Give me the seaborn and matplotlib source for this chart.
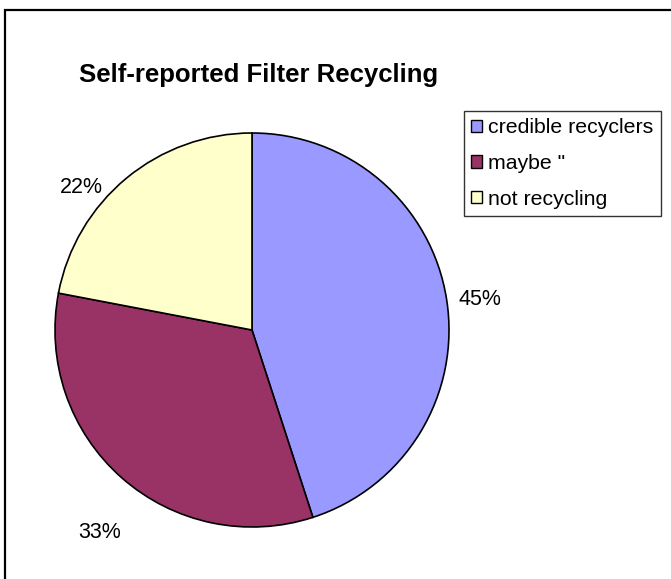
import matplotlib
matplotlib.use("Agg")
import matplotlib.pyplot as plt
import seaborn as sns
import numpy as np
from matplotlib.patches import Rectangle

categories = ["credible recyclers", 'maybe "', "not recycling"]
shares = [45, 33, 22]
colors = ["#9999FF", "#993366", "#FFFFCC"]
title = "Self-reported Filter Recycling"

sns.set_theme(style="white")
plt.rcParams["font.family"] = ["Liberation Sans", "DejaVu Sans"]

W, H = 671, 579
fig = plt.figure(figsize=(W / 100, H / 100), dpi=100)
fig.patch.set_facecolor("white")

# outer chart border (extends past right/bottom edges)
fig.add_artist(Rectangle((5 / W, -0.1), 1.2, 1 - 10 / H + 0.1,
                         transform=fig.transFigure, fill=False,
                         edgecolor="black", linewidth=1.6))

cx, cy, r = 252, 330, 197
ax = fig.add_axes([(cx - r) / W, (H - cy - r) / H, 2 * r / W, 2 * r / H])
wedges, _, autotexts = ax.pie(
    shares, colors=colors, startangle=90, counterclock=False,
    autopct="%1.0f%%", pctdistance=1.17,
    wedgeprops=dict(edgecolor="black", linewidth=1.2),
    textprops=dict(fontsize=15.5, color="black"),
)
# Excel-style outside label placement tweaks (in axes-radius units)
tweaks = {0: (0.0, -0.03), 1: (0.0, -0.15), 2: (-0.12, -0.18)}
for i, t in enumerate(autotexts):
    x, y = t.get_position()
    dx, dy = tweaks.get(i, (0.0, 0.0))
    t.set_position((x + dx, y + dy))
ax.set_xlim(-1, 1)
ax.set_ylim(-1, 1)
ax.set_aspect("auto")
ax.axis("off")

fig.text(79 / W, 1 - 75 / H, title, fontsize=18.5, fontweight="bold",
         ha="left", va="center", color="black")

leg = fig.legend(wedges, categories, loc="upper left",
                 bbox_to_anchor=(464 / W, 1 - 111 / H), bbox_transform=fig.transFigure,
                 fontsize=15.3, frameon=True, fancybox=False, shadow=False,
                 handlelength=0.5, handleheight=0.5, handletextpad=0.3,
                 labelspacing=0.78, borderpad=0.35, borderaxespad=0)
leg.get_frame().set_edgecolor("black")
leg.get_frame().set_linewidth(1.0)
for txt in leg.get_texts():
    txt.set_color("black")
for h in leg.legend_handles:
    h.set_edgecolor("black")
    h.set_linewidth(1.0)

fig.savefig("out.png", dpi=100)
